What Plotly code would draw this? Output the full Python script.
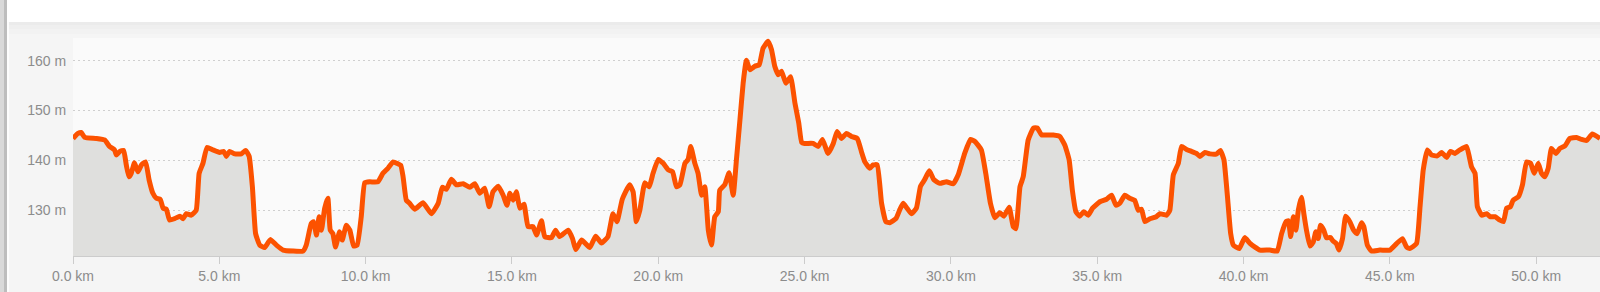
import plotly.graph_objects as go

# distance (km) and elevation (m)
distance_km = [
    0, 0.17, 0.28, 0.4, 0.8, 1.08, 1.25, 1.42, 1.48, 1.6, 1.73, 1.82, 1.91, 1.99, 2.1, 2.22, 2.34, 2.48,
    2.6, 2.73, 2.85, 2.98, 3.08, 3.19, 3.3, 3.47, 3.65, 3.76, 3.87, 4.04, 4.21, 4.31, 4.44, 4.58, 4.78,
    5.01, 5.15, 5.24, 5.35, 5.53, 5.75, 5.9, 6.02, 6.13, 6.24, 6.38, 6.55, 6.74, 6.95, 7.18, 7.52, 7.86,
    7.97, 8.14, 8.22, 8.32, 8.41, 8.49, 8.6, 8.71, 8.79, 8.88, 8.97, 9.11, 9.2, 9.34, 9.46, 9.59, 9.71,
    9.85, 9.97, 10.14, 10.42, 10.59, 10.76, 10.94, 11.11,
    11.2, 11.28, 11.39, 11.5, 11.68, 11.96, 12.25, 12.48, 12.62, 12.76, 12.93, 13.1, 13.33, 13.56, 13.73,
    13.9, 14.07, 14.22, 14.35, 14.53, 14.7, 14.83, 14.93, 15.04, 15.15, 15.27, 15.41, 15.55, 15.72, 15.84,
    16.01, 16.12, 16.35, 16.49, 16.63, 16.92, 17.07, 17.18, 17.38, 17.66, 17.86, 18.06, 18.28, 18.45,
    18.59, 18.77, 19.02, 19.14, 19.25, 19.37, 19.54, 19.69, 19.82, 20.0, 20.17, 20.34, 20.49, 20.62,
    20.74, 20.91, 21.02, 21.11, 21.25, 21.36, 21.48, 21.59, 21.71, 21.82, 21.93, 22.05, 22.1, 22.27,
    22.42, 22.56, 22.67, 22.79, 22.9, 23.01, 23.13, 23.3, 23.45, 23.58, 23.75, 23.87, 23.98, 24.1, 24.21,
    24.36, 24.52, 24.67, 24.8, 24.9,
    25.0, 25.29, 25.46, 25.61, 25.8, 25.98, 26.11, 26.26, 26.43, 26.6, 26.8, 26.94, 27.06, 27.23, 27.34,
    27.48, 27.63, 27.78, 27.91, 28.12, 28.26, 28.37, 28.5, 28.65, 28.82, 28.96, 29.1, 29.26, 29.42, 29.62,
    29.85, 30.08, 30.25, 30.47, 30.67, 30.82, 31.04, 31.19, 31.35, 31.5, 31.67, 31.81, 31.99, 32.13,
    32.22, 32.36, 32.47, 32.64, 32.82, 32.95, 33.1, 33.27, 33.5, 33.72, 33.89, 34.04, 34.15, 34.27, 34.4,
    34.54, 34.69, 34.84, 35.09, 35.32, 35.49, 35.64, 35.77, 35.94, 36.11, 36.28, 36.4, 36.51, 36.63,
    36.8, 37.02, 37.14, 37.37, 37.48, 37.6, 37.77, 37.88, 38.05, 38.22, 38.39,
    38.51, 38.68, 38.85, 39.08, 39.21, 39.33, 39.44, 39.56, 39.65, 39.85, 40.04, 40.21, 40.39, 40.56,
    40.9, 41.15, 41.3, 41.45, 41.53, 41.61, 41.7, 41.79, 41.87, 41.98, 42.06, 42.15, 42.27, 42.38, 42.47,
    42.55, 42.63, 42.74, 42.83, 42.97, 43.06, 43.17, 43.26, 43.38, 43.49, 43.63, 43.76, 43.88, 44.03,
    44.11, 44.23, 44.37, 44.66, 45.0, 45.23, 45.43, 45.57, 45.68, 45.91, 46.03, 46.14, 46.28, 46.42,
    46.62, 46.77, 46.94, 47.07, 47.22, 47.39, 47.62, 47.71, 47.79, 47.91, 47.99, 48.14, 48.31, 48.42,
    48.59, 48.76, 48.88, 48.99, 49.12, 49.21, 49.39, 49.53, 49.67, 49.81, 49.93, 50.07, 50.18, 50.29,
    50.41, 50.52, 50.67, 50.81, 50.98, 51.15, 51.38, 51.55, 51.72, 51.92, 52.18,
]

elevation_m = [
    144.4, 145.4, 145.6, 144.6, 144.4, 144.1, 142.8, 142.1, 141.1, 141.8, 142.0, 139.1, 136.7, 137.4,
    139.5, 137.7, 139.1, 139.7, 136.1, 133.4, 132.4, 132.2, 130.4, 130.2, 128.0, 128.3, 128.8, 128.3,
    129.3, 129.0, 130.0, 137.4, 139.4, 142.6, 142.1, 141.6, 141.8, 140.8, 141.8, 141.3, 141.3, 142.0,
    140.8, 134.7, 125.3, 123.0, 122.5, 124.1, 123.0, 122.0, 121.8, 121.8, 123.0, 127.3, 127.7, 125.0,
    128.7, 126.0, 130.4, 132.4, 126.0, 125.3, 122.6, 125.7, 124.0, 127.0, 126.0, 122.8, 123.0, 128.7,
    135.5, 135.7, 135.7, 137.4, 138.4, 139.7, 139.3,
    139.0, 136.7, 132.0, 131.4, 130.2, 131.5, 129.3, 131.4, 134.6, 134.2, 136.2, 135.1, 135.3, 134.6,
    135.3, 133.4, 134.4, 130.7, 133.7, 134.8, 133.0, 131.0, 133.4, 132.0, 133.7, 130.4, 131.2, 126.7,
    126.7, 125.0, 127.9, 124.7, 124.5, 126.0, 124.7, 126.0, 124.3, 122.1, 124.0, 122.5, 124.8, 123.4,
    124.7, 129.3, 127.7, 132.2, 135.1, 133.7, 127.7, 130.0, 135.5, 134.7, 137.4, 140.2, 139.4, 138.1,
    137.7, 134.7, 135.1, 139.4, 140.2, 142.8, 139.4, 137.4, 133.0, 134.7, 126.0, 123.0, 128.7, 129.7,
    134.0, 135.1, 137.5, 133.0, 140.1, 148.1, 155.5, 160.1, 158.2, 158.9, 159.2, 162.5, 163.9, 162.2,
    158.9, 157.2, 157.9, 155.5, 156.8, 151.5, 147.5, 143.6,
    143.4, 143.4, 142.8, 144.2, 141.4, 143.4, 145.8, 144.4, 145.4, 144.8, 144.4, 141.8, 139.7, 138.4,
    139.1, 139.1, 131.4, 127.7, 127.5, 128.3, 130.2, 131.4, 130.4, 129.3, 130.4, 134.8, 136.1, 137.9,
    136.1, 135.4, 135.7, 135.3, 137.1, 141.4, 144.2, 143.8, 142.1, 137.4, 131.4, 128.5, 129.5, 128.8,
    130.6, 126.7, 126.3, 134.7, 136.7, 144.1, 146.5, 146.5, 145.1, 145.1, 145.1, 144.8, 143.1, 140.1,
    134.0, 129.7, 128.8, 129.7, 129.0, 130.4, 131.7, 132.2, 133.0, 131.0, 131.4, 133.0, 132.4, 132.0,
    130.0, 130.2, 127.7, 128.3, 128.7, 129.3, 129.0, 130.0, 137.1, 139.4, 142.8, 142.2, 141.8, 141.4,
    140.8, 141.6, 141.3, 141.3, 142.0, 140.1, 133.4, 125.3, 123.0, 122.3, 124.5, 123.4, 122.6, 122.0,
    122.0, 121.8, 125.3, 127.7, 127.9, 124.7, 128.7, 126.0, 130.0, 132.6, 129.3, 126.0, 122.8, 123.6,
    125.7, 124.3, 127.0, 126.0, 124.5, 124.5, 123.8, 123.3, 122.0, 124.3, 128.8, 127.7, 126.0, 125.3,
    127.5, 126.7, 123.0, 121.8, 122.0, 122.0, 123.3, 124.3, 122.6, 122.3, 123.3, 130.7, 138.1, 142.1,
    141.1, 140.9, 141.6, 140.6, 141.8, 141.4, 142.1, 142.8, 140.8, 138.7, 137.4, 130.7, 129.0, 129.3,
    128.7, 128.7, 128.0, 127.7, 130.4, 130.7, 132.0, 132.7, 135.1, 139.7, 139.4, 137.4, 139.4, 137.4,
    136.7, 138.4, 142.4, 141.4, 142.4, 142.9, 144.4, 144.6, 144.2, 144.0, 145.3, 144.4,
]

x_tick_values = [0, 5, 10, 15, 20, 25, 30, 35, 40, 45, 50]
x_tick_labels = [f"{v:.1f} km" for v in x_tick_values]
y_tick_values = [130, 140, 150, 160]
y_tick_labels = [f"{v} m" for v in y_tick_values]

W, H = 1600, 292
L, R, T, B = 73, 0, 38, 36
pw, ph = W - L - R, H - T - B


def px(p):
    return (p - L) / pw


def py(q):
    return (H - B - q) / ph


fig = go.Figure()
fig.add_trace(go.Scatter(
    x=distance_km, y=elevation_m, mode="lines",
    line=dict(color="#fc5200", width=5, shape="spline", smoothing=0.4),
    fill="tozeroy", fillcolor="#dfdfdd",
    hoverinfo="skip", showlegend=False,
))

shapes = [
    # white top band
    dict(type="rect", xref="paper", yref="paper", x0=px(0), x1=px(W), y0=py(0), y1=py(22),
         fillcolor="#ffffff", line_width=0, layer="below"),
    # soft shadow below band
    dict(type="rect", xref="paper", yref="paper", x0=px(7), x1=px(W), y0=py(22), y1=py(25),
         fillcolor="#ebebeb", line_width=0, layer="below"),
    dict(type="rect", xref="paper", yref="paper", x0=px(7), x1=px(W), y0=py(25), y1=py(29),
         fillcolor="#efefef", line_width=0, layer="below"),
    dict(type="rect", xref="paper", yref="paper", x0=px(7), x1=px(W), y0=py(29), y1=py(34),
         fillcolor="#f2f2f2", line_width=0, layer="below"),
    # left strip
    dict(type="rect", xref="paper", yref="paper", x0=px(0), x1=px(4), y0=py(0), y1=py(H),
         fillcolor="#d9d9d9", line_width=0, layer="below"),
    dict(type="rect", xref="paper", yref="paper", x0=px(4), x1=px(7), y0=py(0), y1=py(H),
         fillcolor="#bdbdbd", line_width=0, layer="below"),
    dict(type="rect", xref="paper", yref="paper", x0=px(7), x1=px(9), y0=py(22), y1=py(H),
         fillcolor="#fdfdfd", line_width=0, layer="below"),
]

fig.update_layout(
    width=W, height=H,
    margin=dict(l=L, r=R, t=T, b=B, pad=0),
    paper_bgcolor="#f5f5f5",
    plot_bgcolor="#fafafa",
    font=dict(family="Liberation Sans, Arial, sans-serif", size=14, color="#8c8c8c"),
    shapes=shapes,
    showlegend=False,
    xaxis=dict(
        range=[0, 52.18], tickvals=x_tick_values, ticktext=x_tick_labels,
        showgrid=False, zeroline=False, showline=True, linecolor="#cccccc", linewidth=1,
        ticks="outside", ticklen=7, tickcolor="#cccccc", tickwidth=1,
        tickfont=dict(size=14, color="#8c8c8c"), fixedrange=True,
    ),
    yaxis=dict(
        range=[120.81, 164.56], tickvals=y_tick_values, ticktext=y_tick_labels,
        showgrid=True, gridcolor="#cfcfcf", gridwidth=1, griddash="2px,3px",
        zeroline=False, showline=False,
        ticks="outside", ticklen=3, tickcolor="rgba(0,0,0,0)",
        tickfont=dict(size=14, color="#8c8c8c"), fixedrange=True,
    ),
)

fig.write_html("out.html")
